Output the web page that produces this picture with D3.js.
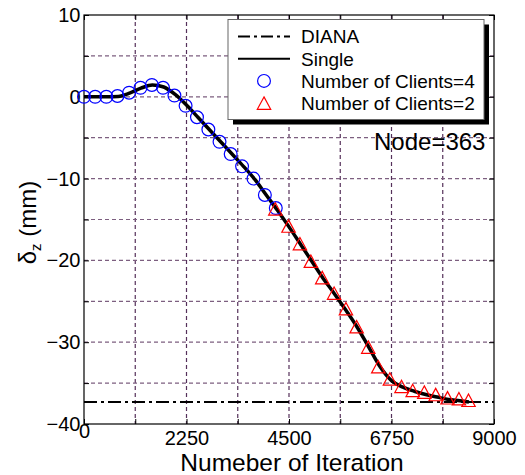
<!DOCTYPE html>
<html>
<head>
<meta charset="utf-8">
<script src="https://cdn.jsdelivr.net/npm/d3@7"></script>
<style>
    body { margin: 0; background: #fff; }
    text { font-family: "Liberation Sans", Arial, sans-serif; fill: #000; }
</style>
</head>
<body>
<svg id="chart" width="525" height="475"></svg>
<script>
// Values
const dianaValue = -37.3;

const singleX = [0, 250, 500, 750, 1000, 1250, 1500, 1750, 2000, 2250, 2500, 2750, 3000, 3250,
    3500, 3750, 4000, 4250, 4500, 4750, 5000, 5250, 5500, 5750, 6000, 6250, 6500, 6750,
    7000, 7250, 7500, 7750, 8000, 8250, 8450];
const singleY = [0, 0, 0, 0.05, 0.45, 1.05, 1.45, 1.2, 0.3, -1.0, -2.5, -4.0, -5.5, -7.0,
    -8.5, -10.1, -12.0, -13.9, -15.9, -18.0, -20.1, -22.2, -24.1, -26.1, -28.2, -30.6, -33.0, -34.7,
    -35.5, -36.0, -36.4, -36.7, -37.0, -37.15, -37.3];

const clients4X = [0, 245, 490, 735, 990, 1240, 1490, 1735, 1985, 2230, 2480, 2730, 2975,
    3220, 3470, 3720, 3970, 4210];
const clients4Y = [0, 0, 0, 0.1, 0.5, 1.1, 1.45, 1.1, 0.15, -1.1, -2.5, -4.0, -5.5,
    -7.0, -8.5, -10.0, -12.0, -13.6];

const clients2X = [4200, 4490, 4740, 4980, 5230, 5490, 5750, 5985, 6240, 6460, 6715, 6970,
    7215, 7470, 7720, 7980, 8230, 8440];
const clients2Y = [-13.7, -15.8, -17.95, -20.1, -22.1, -24.0, -25.9, -28.1, -30.6, -33.0, -34.5, -35.4,
    -35.9, -36.1, -36.4, -36.8, -36.9, -37.1];

const xTickLabels = [0, 2250, 4500, 6750, 9000];
const yTickLabels = [-40, -30, -20, -10, 0, 10];
const legendLabels = ['DIANA', 'Single', 'Number of Clients=4', 'Number of Clients=2'];

const svg = d3.select('#chart');

const x = d3.scaleLinear().domain([0, 9000]).range([84, 494]);
const y = d3.scaleLinear().domain([-40, 10]).range([424, 15]);

const xMinor = d3.range(0, 9001, 1125);
const yMinor = d3.range(-40, 10.01, 5);

// grid
svg.append('g')
    .selectAll('line')
    .data(xMinor.slice(1, -1))
    .join('line')
    .attr('x1', d => x(d)).attr('x2', d => x(d))
    .attr('y1', y(10)).attr('y2', y(-40))
    .attr('stroke', '#55305a')
    .attr('stroke-width', 1.2)
    .attr('stroke-dasharray', '4,3');

svg.append('g')
    .selectAll('line')
    .data(yMinor.slice(1, -1))
    .join('line')
    .attr('x1', x(0)).attr('x2', x(9000))
    .attr('y1', d => y(d)).attr('y2', d => y(d))
    .attr('stroke', '#7d5f80')
    .attr('stroke-width', 1.2)
    .attr('stroke-dasharray', '4,3');

// axes (ticks point inward)
const bottomAxis = svg.append('g')
    .attr('transform', `translate(0,${y(-40)})`)
    .call(d3.axisBottom(x).tickValues(xMinor).tickSize(-5)
        .tickFormat(d => xTickLabels.includes(d) ? d : ''));

svg.append('g')
    .attr('transform', `translate(0,${y(10)})`)
    .call(d3.axisTop(x).tickValues(xMinor).tickSize(-5).tickFormat(''));

const leftAxis = svg.append('g')
    .attr('transform', `translate(${x(0)},0)`)
    .call(d3.axisLeft(y).tickValues(yMinor).tickSize(-5).tickPadding(3.5)
        .tickFormat(d => yTickLabels.includes(d) ? d3.format('d')(d).replace('-', '\u2212') : ''));

svg.append('g')
    .attr('transform', `translate(${x(9000)},0)`)
    .call(d3.axisRight(y).tickValues(yMinor).tickSize(-5).tickFormat(''));

svg.selectAll('.domain').remove();
svg.selectAll('.tick line').attr('stroke', '#000').attr('stroke-width', 1);

bottomAxis.selectAll('text')
    .attr('y', 20.5)
    .attr('dy', null)
    .attr('font-size', 20)
    .attr('font-family', '"Liberation Sans", Arial, sans-serif')
    .attr('fill', '#000');
bottomAxis.selectAll('.tick').filter(d => d === 0).select('text').attr('y', 14);

leftAxis.selectAll('text')
    .attr('font-size', 20)
    .attr('font-family', '"Liberation Sans", Arial, sans-serif')
    .attr('fill', '#000');

// frame
svg.append('rect')
    .attr('x', x(0)).attr('y', y(10))
    .attr('width', x(9000) - x(0)).attr('height', y(-40) - y(10))
    .attr('fill', 'none').attr('stroke', '#000').attr('stroke-width', 1.2);

// DIANA reference
svg.append('line')
    .attr('x1', x(0)).attr('x2', x(9000))
    .attr('y1', y(dianaValue)).attr('y2', y(dianaValue))
    .attr('stroke', '#000').attr('stroke-width', 2)
    .attr('stroke-dasharray', '13,4,3,4');

// Single run
const singleData = singleX.map((d, i) => [d, singleY[i]]);
svg.append('path')
    .datum(singleData)
    .attr('fill', 'none')
    .attr('stroke', '#000')
    .attr('stroke-width', 3.5)
    .attr('d', d3.line().x(d => x(d[0])).y(d => y(d[1])).curve(d3.curveMonotoneX));

// markers
const triPath = 'M0,-6.2L6.7,6.2L-6.7,6.2Z';

svg.append('g')
    .selectAll('circle')
    .data(clients4X.map((d, i) => [d, clients4Y[i]]))
    .join('circle')
    .attr('cx', d => x(d[0])).attr('cy', d => y(d[1]))
    .attr('r', 6.4)
    .attr('fill', 'none').attr('stroke', '#0000ff').attr('stroke-width', 1.2);

svg.append('g')
    .selectAll('path')
    .data(clients2X.map((d, i) => [d, clients2Y[i]]))
    .join('path')
    .attr('transform', d => `translate(${x(d[0])},${y(d[1])})`)
    .attr('d', triPath)
    .attr('fill', 'none').attr('stroke', '#ff0000').attr('stroke-width', 1.2);

// legend
const legend = svg.append('g').attr('transform', 'translate(228,19.5)');
legend.append('rect')
    .attr('x', 5).attr('y', 5).attr('width', 256).attr('height', 100).attr('fill', '#000');
legend.append('rect')
    .attr('width', 256).attr('height', 100)
    .attr('fill', '#fff').attr('stroke', '#666').attr('stroke-width', 1);

const rows = legend.selectAll('g.row')
    .data(legendLabels)
    .join('g')
    .attr('class', 'row')
    .attr('transform', (d, i) => `translate(0,${17 + i * 22.2})`);

rows.append('text')
    .attr('x', 73).attr('y', 6.8)
    .attr('font-size', 19)
    .text(d => d);

rows.filter((d, i) => i === 0).append('line')
    .attr('x1', 10).attr('x2', 62)
    .attr('stroke', '#000').attr('stroke-width', 2)
    .attr('stroke-dasharray', '12,4,3,4');
rows.filter((d, i) => i === 1).append('line')
    .attr('x1', 10).attr('x2', 62)
    .attr('stroke', '#000').attr('stroke-width', 2);
rows.filter((d, i) => i === 2).append('circle')
    .attr('cx', 36).attr('r', 6.4)
    .attr('fill', 'none').attr('stroke', '#0000ff').attr('stroke-width', 1.2);
rows.filter((d, i) => i === 3).append('path')
    .attr('transform', 'translate(36,0)')
    .attr('d', triPath)
    .attr('fill', 'none').attr('stroke', '#ff0000').attr('stroke-width', 1.2);

// annotation
svg.append('text')
    .attr('x', 374).attr('y', 150)
    .attr('font-size', 24)
    .text('Node=363');

// axis titles
svg.append('text')
    .attr('x', (x(0) + x(9000)) / 2 + 3).attr('y', 471)
    .attr('text-anchor', 'middle')
    .attr('font-size', 24.5)
    .text('Numeber of Iteration');

const yTitle = svg.append('text')
    .attr('transform', `translate(36,${(y(10) + y(-40)) / 2 + 3}) rotate(-90)`)
    .attr('text-anchor', 'middle')
    .attr('font-size', 24);
yTitle.append('tspan').text('δ');
yTitle.append('tspan').attr('font-size', 15).attr('dy', 5).text('z');
yTitle.append('tspan').attr('dy', -5).text(' (mm)');
</script>
</body>
</html>
